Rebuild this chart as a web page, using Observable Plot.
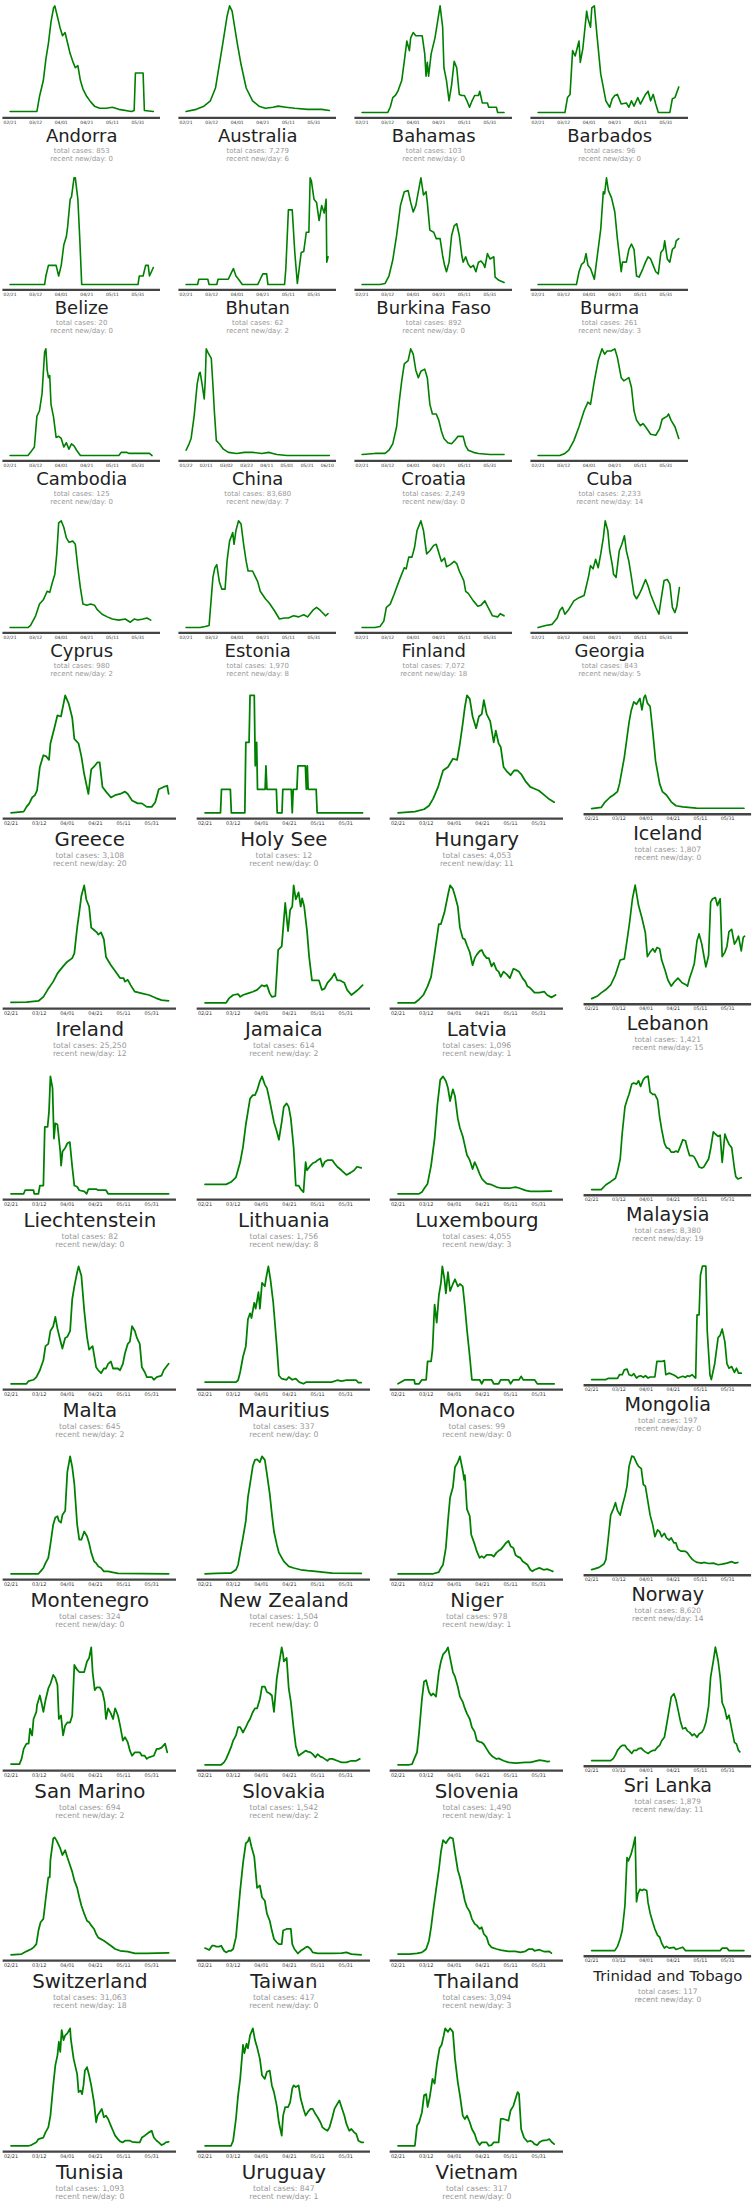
<!DOCTYPE html>
<html><head><meta charset="utf-8">
<script src="https://cdn.jsdelivr.net/npm/d3@7"></script>
<script src="https://cdn.jsdelivr.net/npm/@observablehq/plot@0.6"></script>
<style>
html,body{margin:0;padding:0;background:#fff;}
#wrap{position:relative;width:753px;height:2209px;overflow:hidden;font-family:"DejaVu Sans",sans-serif;}
.panel{position:absolute;}
.panel svg{overflow:visible;}
</style></head><body><div id="wrap"></div>
<script>
const countries = ["Andorra","Australia","Bahamas","Barbados","Belize","Bhutan","Burkina Faso","Burma","Cambodia","China","Croatia","Cuba","Cyprus","Estonia","Finland","Georgia","Greece","Holy See","Hungary","Iceland","Ireland","Jamaica","Latvia","Lebanon","Liechtenstein","Lithuania","Luxembourg","Malaysia","Malta","Mauritius","Monaco","Mongolia","Montenegro","New Zealand","Niger","Norway","San Marino","Slovakia","Slovenia","Sri Lanka","Switzerland","Taiwan","Thailand","Trinidad and Tobago","Tunisia","Uruguay","Vietnam"];
const totalCases = [853,7279,103,96,20,62,892,261,125,83680,2249,2233,980,1970,7072,843,3108,12,4053,1807,25250,614,1096,1421,82,1756,4055,8380,645,337,99,197,324,1504,978,8620,694,1542,1490,1879,31063,417,3094,117,1093,847,317];
const recentNew = [0,6,0,0,0,2,0,3,0,7,0,14,2,8,18,5,20,0,11,0,12,2,1,15,0,8,3,19,2,0,0,0,0,0,1,14,2,2,1,11,18,0,3,0,0,1,0];
const startDates = countries.map(c => c === "China" ? "2020-01-22" : "2020-02-21");
const endDate = "2020-06-12";

// [day offset from start date, value as % of the country's peak]
const andorra = [[0,1],[21,1],[23,15],[26,30],[28,50],[30,65],[32,85],[34,98],[35,100],[37,90],[39,80],[41,72],[43,75],[45,65],[47,55],[49,48],[51,42],[53,44],[55,30],[57,22],[60,15],[63,10],[66,6],[70,4],[75,4],[80,5],[85,3],[95,1],[97,2],[98,37],[104,37],[105,2],[112,1]];
const australia = [[0,1],[8,3],[14,6],[19,11],[23,23],[26,45],[29,67],[32,90],[34,100],[36,95],[38,80],[40,65],[43,45],[47,23],[52,11],[57,6],[62,4],[68,5],[72,6],[78,5],[85,4],[95,3],[100,3],[106,3],[112,2]];
const bahamas = [[0,0],[20,0],[22,5],[24,14],[26,16],[28,20],[31,30],[33,48],[35,67],[37,58],[38,70],[40,75],[42,72],[45,72],[47,72],[49,55],[50,34],[51,47],[52,34],[54,55],[57,70],[59,85],[61,100],[63,80],[64,42],[66,30],[68,11],[70,26],[72,48],[74,42],[76,17],[78,16],[80,16],[82,11],[84,5],[86,11],[88,16],[91,16],[92,20],[94,9],[98,9],[99,5],[105,5],[106,0],[111,0]];
const barbados = [[0,0],[21,0],[23,14],[25,17],[27,58],[29,53],[32,67],[33,47],[35,60],[38,95],[39,88],[41,80],[42,98],[44,100],[46,73],[49,36],[50,30],[53,11],[56,5],[58,13],[60,16],[62,17],[65,8],[69,9],[71,5],[73,11],[75,6],[78,14],[80,8],[84,17],[86,20],[88,11],[90,17],[92,8],[94,0],[103,0],[105,13],[107,14],[110,24]];
const belize = [[0,0],[27,0],[28,8],[30,18],[36,18],[38,8],[40,18],[42,37],[44,45],[45,54],[47,80],[48,82],[50,100],[51,100],[53,80],[54.5,43],[56,0],[100,0],[101,8],[104,8],[106,18],[108,18],[109,8],[112,16]];
const bhutan = [[0,0],[9,0],[10,5],[17,5],[18,0],[24,0],[25,5],[33,5],[35,10],[37,15],[39,8],[41,5],[44,0],[56,0],[58,5],[60,10],[63,10],[64,0],[77,0],[78,15],[80,70],[83,70],[85,30],[87,1],[90,30],[92,31],[94,49],[96,49],[97,100],[98,97],[100,80],[102,77],[104,60],[106,74],[108,67],[109.5,80],[110,21],[111,26]];
const burkinaFaso = [[0,0],[14,0],[18,1],[21,8],[24,23],[27,46],[30,74],[33,87],[36,88],[38,77],[40,68],[42,74],[44,87],[46,100],[48,84],[50,87],[51,77],[53,51],[56,49],[58,43],[61,43],[63,27],[64.5,18],[66,12],[68,21],[70,46],[72,55],[74,57],[76,46],[78,27],[79,21],[81,26],[83,19],[85,16],[87,18],[89,12],[91,21],[93,22],[95,19],[96,16],[98,29],[100,24],[103,26],[104,7],[107,4],[111,2]];
const burma = [[0,0],[30,0],[32,12],[34,19],[36,21],[37.5,29],[39,18],[41,15],[44,5],[46,24],[49,52],[51,87],[52,85],[53.5,100],[55,88],[57.5,81],[60,68],[62,43],[65,12],[66,21],[69,21],[71,33],[73,38],[75,33],[77,8],[79,7],[82,15],[84,21],[86,26],[88,24],[90,18],[92,12],[94,10],[96,30],[98,33],[99,41],[101,24],[103,21],[105,33],[107,35],[108,41],[110,43]];
const cambodia = [[0,0],[14,0],[16,3],[19,8],[21,37],[23,42],[25,58],[27,97],[28,100],[29,80],[30,73],[31,75],[32,48],[34,36],[36,17],[38,18],[40,16],[42,8],[44,12],[46,6],[48,11],[50,9],[52,5],[55,0],[85,0],[87,3],[91,3],[93,2],[100,2],[109,2],[111,0]];
const china = [[0,5],[3,11],[5,16],[8,37],[11,67],[13,77],[14,78],[16,66],[18,53],[19,70],[20,100],[22,96],[25,91],[27,60],[28,42],[30,14],[33,11],[37,6],[42,3],[50,2],[58,3],[66,3],[75,2],[82,3],[86,2],[90,1],[100,0],[142,0]];
const croatia = [[0,1],[10,2],[18,2],[21,5],[24,11],[27,27],[29,50],[31,70],[33,86],[36,89],[38,100],[40,95],[42,80],[44,73],[46,79],[49,81],[51,73],[53,48],[55,39],[58,39],[60,33],[62,23],[64,16],[67,12],[70,11],[73,15],[75,18],[79,18],[81,9],[83,5],[87,3],[91,2],[100,1],[111,1]];
const cuba = [[0,0],[17,0],[21,2],[24,5],[28,14],[32,27],[36,42],[39,50],[41,48],[44,70],[47,89],[50,100],[52,95],[54,98],[57,98],[60,100],[62,92],[65,73],[67,70],[71,73],[73,64],[75,42],[77,33],[80,28],[82,30],[84,27],[88,20],[92,19],[95,25],[97,34],[101,37],[102,39],[104,33],[107,27],[110,16]];
const cyprus = [[0,0],[14,0],[16,2],[20,11],[23,22],[26,26],[29,34],[31,33],[33,42],[35,50],[36.5,69],[38,98],[40,100],[42,94],[44,84],[46,80],[49,81],[51,78],[53,56],[55,37],[57,22],[60,21],[63,22],[66,21],[68,17],[72,12.5],[76,10],[80,8],[85,7],[90,8],[94,5],[97,8],[100,7],[104,8],[107,9],[110,7]];
const estonia = [[0,0],[11,0],[15,1],[18,2],[21,47],[22.5,56],[24,59],[26,43],[28,36],[30.5,36],[32,62],[34,81],[36.5,89],[37.5,78],[39,91],[41,100],[43,97],[45,78],[47,62],[48.5,53],[52,53],[54,48],[56,43],[58,34],[62,27],[65,23],[69,16],[73,8],[77,9],[80,9],[84,11],[88,10],[92,12],[95,10],[99,16],[102,19],[105,16],[109,11],[111,13]];
const finland = [[0,0],[10,0],[14,1],[17,6],[19,19],[22,22],[25,31],[29,44],[33,56],[34.5,55],[36.5,66],[39,66],[41,75],[43,91],[46,100],[48,91],[50.5,69],[53,72],[56,77],[58,78],[60,70],[62,62],[64.5,65],[66,57],[69,59],[72,62],[74,60],[76,53],[79.5,44],[81,34],[83,32],[87,25],[90.5,20],[93,21],[96,25],[98,20],[102,11],[106,10],[108,13],[111,11]];
const georgia = [[0,0],[6,2],[11,3],[15,9],[17,16],[19,19],[21,12.5],[24,17],[28,25],[32,28],[36,30],[39.5,48],[41,58],[43,55],[45,64],[47,56],[49,69],[51,84],[52.5,100],[54.5,91],[56,72],[58,59],[59,50],[61,47],[63.5,72],[65.5,78],[67.5,86],[69,72],[71,62],[73,47],[75,31],[77,27],[79,31],[81,36],[84,45],[86,39],[88,31],[92,19],[94.5,12.5],[96,25],[98.5,44],[101,45],[103,41],[105,19],[107,14],[108.5,20],[110.5,37.5]];
const greece = [[0,0],[9,1],[11,5],[13,8],[15,13],[17,15],[18.5,19],[20.5,39],[23,49],[25,48],[27,45],[28,59],[31,73],[33,83],[35.5,82],[38.5,100],[41,93],[43.5,81],[45,63],[48,59],[50,48],[52,33],[55,16],[57,37],[59.5,40],[61.5,43],[63,43],[65,22],[67.5,18],[71,13],[74,15],[77.5,16],[81,18],[83,16],[86,10.5],[90,8],[93,8],[96.5,5],[100,5],[102.5,9],[105,20],[108.5,22],[111,23],[112,16]];
const holySee = [[0,0],[11,0],[11.7,20],[18,20],[18.7,0],[28.3,0],[29,60],[31.3,60],[32,100],[35,100],[35.7,40],[36.7,60],[37.3,20],[42.7,20],[43.3,40],[44,20],[50.7,20],[51.3,0],[54.7,0],[55.3,20],[61.3,20],[62,0],[62.7,20],[65.3,20],[66,40],[71.3,40],[72,20],[72.7,40],[73.3,20],[79,20],[79.7,0],[112,0]];
const hungary = [[0,0],[12,1],[18.5,3],[22,6],[25,12],[28.5,22],[32,36],[35.5,39],[39,46],[42,45],[44,59],[46,76],[47.5,90],[49,100],[51,97],[53,82],[55.5,72],[57.5,82],[59.5,84],[61,96],[63,84],[65.5,78],[68,60],[69.5,70],[71.5,59],[73,56],[75,39],[77.5,35],[80,32],[82.5,36],[85,36],[87.5,33],[90.5,27],[94,22],[97,20.5],[100,19],[104,15],[107,12],[111,9]];
const iceland = [[0,0],[7,1],[10,6],[13.5,10],[16,12],[19,15],[20.5,22],[24,45],[27.5,76],[29,86],[31,94],[33,92],[35.5,97],[37,87],[38.5,98],[39.5,100],[41,93],[43,90],[45,67],[47,42],[50,22],[52,15],[55,12],[58.5,6],[62,2.5],[67,1.5],[77,0.5],[112,0.3]];
const ireland = [[0,0.3],[11,0.6],[19.5,1.5],[23,5],[26,11],[30,18],[33,25],[37,31],[40,35],[43.5,38],[45,42],[47,64],[48.5,77],[50,91],[52,100],[53.5,88],[55.5,82],[56,76],[57,64],[59,62],[61,60],[62,58],[64,60],[66,54],[67.5,39],[71,32],[74,27],[77.5,21],[80,21],[81,18],[83,19.5],[85,15],[88,9.4],[93,8],[98,6.6],[103,4],[107,2.3],[112,1.7]];
const jamaica = [[0,0],[15,0],[17,3.7],[20,6.6],[23.5,7.4],[25,5],[27,6.6],[30.5,8],[34,9.4],[37,11],[40.5,15],[42,14],[44,15],[46,8],[47.5,5],[50,5.7],[52,45],[54.5,48],[57,85],[59,61],[60.5,79],[62,82],[63,100],[64.5,88],[66.5,94],[68,82],[69,89],[70.5,82],[72.5,61],[74,39],[76,19],[78,19],[81,19],[83,11],[85,12],[87,17],[90,21],[92,25],[94,19],[96,19],[99,17],[101,11],[104,6.6],[107,9.4],[109,11.4],[112,15]];
const latvia = [[0,0],[12,0],[14.5,2.3],[18,6.6],[21,14],[23.5,22],[26,42],[29,67],[30.5,67],[33,77],[35.5,92],[37,100],[39,97],[40.5,91],[42.5,82],[44,64],[46,55],[47.5,54],[49,49],[51,43],[53,32],[54.5,38],[56,41],[58,44],[59.5,45],[61,41],[63,38],[64.5,38],[66.5,31],[68,34],[70,28],[71.5,26.5],[73,22],[75,26.5],[77.5,24],[79.5,21],[82,29],[84,28],[86,26.5],[88.5,21],[90.5,18],[92,14],[94,12.5],[97,8.6],[100.5,8.6],[104,9.4],[106,6.6],[109,4.6],[112,6.6]];
const lebanon = [[0,0],[4,2],[7,5],[10.5,8],[14,12],[17.5,21],[21,34],[24,35],[26,51],[28,68],[30,88],[32,100],[34.5,82],[37,71],[39.5,58],[41,37],[43,41],[45,44],[46.5,41],[48,45],[50,44],[51.5,34],[54,25],[56,16.6],[58.5,11],[61,15],[63.5,18],[66.5,14],[69,12.5],[70.5,11],[72,18],[74,25],[75.5,31],[77.5,51],[79,57],[81,48],[82.5,38],[84,28],[86,38],[87.5,85],[89,88],[91,89],[92.5,82],[94.5,88],[96,37],[98,41],[99.5,46],[101,59],[103,61],[105,48],[106.5,51],[108,55],[110,42],[111.5,54],[112.5,55]];
const liechtenstein = [[0,0],[9,0],[10,3],[16,3],[16.5,0],[19.5,0],[20.5,7],[23,7],[24,57],[26,57],[27,70],[28,100],[29.5,90],[30.5,47],[31.5,60],[33,59],[35,36],[35.6,24],[36.6,36],[38.5,39],[40,43],[41.8,44],[43.5,23],[45,7],[47,6],[48.5,3],[52,2],[53.8,0],[55,4],[60.5,4],[62,3],[67.5,3],[69,0],[112,0]];
const lithuania = [[0,8],[8,8],[15,8],[18.5,10],[22,14],[25,27],[27,40],[29,59],[30.5,70],[32,81],[34,84],[35.5,84],[37,88],[39,96],[40.5,100],[42.5,93],[44,90],[46,79],[47.5,70],[49,61],[51,53],[52.5,46],[54.5,61],[56,74],[58,77],[59.5,74],[61,64],[63,39],[64.5,7],[66.5,7],[68,4],[70,1.4],[71.5,27],[72.5,20],[75,24],[76.5,26],[78.5,27],[80,28.6],[82,30],[83.5,23],[85,27],[87,28.6],[90.5,28.6],[92,26],[94,23],[97,20],[100.5,16],[103.5,18],[106,20],[108,23],[111,22]];
const luxembourg = [[0,0],[15,0],[17,1.4],[18.5,4.3],[21,8.6],[23.5,24],[26,47],[28,76],[30,97],[32,100],[34,96],[35.5,90],[37,79],[39,89],[40.5,83],[42.5,64],[44,56],[46,49],[47.5,41],[49,33],[51,28.6],[53,21],[54.5,27],[56,23],[58,17],[59.5,13],[61,11],[63,8.6],[66.5,7.7],[70,5.7],[73,4.9],[80,4.9],[83.5,5.7],[86,4.9],[90.5,2.9],[94,2],[101,2],[109,2.3]];
const malaysia = [[0,0],[7,0],[10.5,4.3],[14,7],[17.5,10],[19,16],[21,27],[22.5,50],[24.5,73],[26,79],[27.5,84],[29.5,93],[31,94],[33,93],[34.5,96],[36,91],[38,97],[39.5,99],[41.5,100],[43,86],[45,84],[46.5,84],[48.5,79],[50,64],[51.5,53],[53.5,41],[55,37],[57,36],[58.5,33],[60.5,33],[62,34],[63.5,33],[65.5,39],[67,44],[69,43],[70.5,36],[72,30],[74,30],[75.5,28.6],[77.5,24],[79,20],[81,19],[82.5,20],[84,23],[86,27],[87.5,36],[89.5,51],[91,49],[93,47],[94.5,48],[96,24],[98,49],[99.5,44],[101,40],[103,37],[105,18.6],[106,11.4],[107.5,9.4],[110,10.5]];
const malta = [[0,0],[11,0],[12.5,2.3],[16,3.4],[18,5.7],[20.5,11.5],[23,20],[24.5,32],[26.5,34],[28,45],[30,49],[31.5,57],[33,47],[35,37],[36.5,30],[38.5,39],[40,40],[42,45],[43.5,72],[45,83],[47,95],[48,100],[50,92],[52,63],[54,40],[55.5,29],[58,32],[60.5,14],[62,11.5],[64,9],[66,13],[67.5,13],[69,17],[71,19],[72.5,13],[76,13],[77.5,11.5],[79.5,17],[81,26],[83,34],[84.5,36],[86,49],[88,45],[89.5,39],[91.5,34],[93,14],[95,10],[96.5,5.7],[100,5.7],[101.5,3.4],[103.5,5.7],[107,7],[108.5,11.5],[112,17]];
const mauritius = [[0,1.4],[22,1.4],[23.5,3],[25,10],[27,23],[29,32],[30.5,55],[32,60],[33,56],[35,69],[36,64],[38,78],[39,64],[40.5,86],[42.5,83],[43.5,90.5],[45,100],[46.5,89],[48.5,69],[51,32],[52.5,7],[54.5,4.3],[58,3.4],[59.5,5.7],[62,3.4],[64.5,4.3],[67,1.4],[70,0],[72,1.4],[90,1.4],[94,3],[97,2.3],[100.5,3],[107.5,3],[109,1],[111,1]];
const monaco = [[0,0],[5,3.4],[11.5,3.4],[12,0],[15,0],[17,3.4],[20,3.4],[21,19],[23.5,19],[24.5,29],[26,67.5],[27.5,52],[29,75],[30.5,86],[31.5,100],[33,89],[34,77],[35.5,95],[37,79],[39,85],[40.5,89],[42.5,83],[44,85],[46,83],[47.5,66],[49,46],[51,23],[52.5,3.4],[58,3.4],[59.5,0],[61,3.4],[66.5,3.4],[68,0],[71.5,0],[73,3.4],[78.5,3.4],[80,0],[82,3.4],[86,3.4],[87.5,6.3],[89,3.4],[97,3.4],[99,0],[111,0]];
const mongolia = [[0,0],[10.5,0],[12,1],[19,1],[20.5,4.3],[22.5,4.3],[24,8.6],[26,9.2],[27.5,4.3],[29.5,3.4],[31,5.2],[33,1.4],[34.5,2.9],[36,3.4],[38,2],[39.5,3.4],[41.5,1.4],[43,2.3],[46.5,2.3],[48,16],[51.5,16],[53.5,16.7],[54.5,4.3],[57,5.7],[60,4.3],[62,2.9],[63.5,1.4],[67,2.9],[69,2],[70.5,3.4],[72,2.9],[74,4.3],[75.5,2.3],[76.5,1.4],[77.5,57],[79,57],[80,92],[81.5,100],[84,100],[85,43],[87,4.3],[88,0],[90.5,14],[93,37],[94.5,39],[96,44.5],[98,33],[99.5,14],[101,10],[103,11.5],[105,6.3],[106.5,10],[108,5.7],[110,5.7]];
const montenegro = [[0,0],[19.5,0],[21,2],[23,4.9],[24.5,9],[26.5,13.5],[28,25],[30,42],[31.5,48],[33,49],[34,45],[35.5,43.5],[36.5,50],[38.5,53.6],[40,86.5],[42,100],[43.5,91],[45,76.5],[47,42],[48.5,29],[50,29],[52,36],[54,32],[55.5,26],[57,18],[59,10.6],[60.5,9],[62,6.3],[64,4.9],[66,2],[69,2],[72.5,1.1],[76,0.3],[112,0]];
const newZealand = [[0,0],[8,0.3],[15,0.6],[18.5,0.6],[22,3.4],[23.5,7.7],[25,18],[27,31],[29,45],[30.5,65],[32,76.5],[34,92],[35.5,97],[37,97.5],[39,95],[40.5,100],[42.5,97],[44,85],[46,68],[47.5,51],[49,36],[51,25],[52.5,18],[56,10.6],[59.5,6.3],[63,4.9],[68,3.4],[73,2.6],[78.5,2],[83.5,1.4],[90.5,0.6],[111,0.3]];
const niger = [[0,0],[25,0],[29,1.4],[30.5,5],[32,7.7],[34,22],[35.5,45],[37,65],[39,73.6],[40.5,91],[42.5,95],[44,100],[46,88],[47,80],[47.5,84],[49,55],[51,49],[52,33.5],[54.5,25],[56,19],[58,13.5],[59.5,15],[61,13.5],[63,16],[66.5,16],[68,14.6],[70,18],[71.5,19.5],[73,20.6],[75,23.5],[76.5,26],[78.5,28],[80,23.5],[82,22],[83.5,16],[85,14.6],[87,13.5],[88.5,10.6],[90.5,9],[92,7.7],[94,3.4],[95.5,2],[97,3.4],[100.5,5],[103.5,3.4],[106,4],[109,2.6],[110,2]];
const norway = [[0,0],[2,0.6],[5.5,2],[9,4.9],[10.5,9],[12,25],[14,48],[16,53.6],[17.5,59],[19,52],[21,48],[22.5,56],[24.5,65],[26,73.6],[27.5,91],[29.5,100],[31,99.4],[33,94],[34.5,91],[36.5,89],[38,75],[39.5,73.6],[41.5,59],[43,48],[45,39],[46.5,29],[48.5,35],[50,33.5],[51.5,29],[53.5,32],[55,28],[57,26],[58.5,28],[60.5,23.5],[62,23.5],[63.5,18],[65.5,16.3],[67,16.3],[69,16],[70.5,14.6],[72,12],[74,9],[75.5,7.7],[77.5,6.3],[81,5.7],[82.5,6.3],[86,5.4],[89.5,5.7],[93,4.3],[96,4.9],[99.5,5.7],[103,7],[105.5,5.7],[107.5,6.3]];
const sanMarino = [[0,0.6],[6,0.6],[7.5,5],[9,13.5],[11,18],[12.5,18],[13.5,30.7],[15,25],[16,39],[18,45],[18.5,51],[20.5,59],[22,51],[23,45],[24.5,55],[26.5,65],[28,69],[30,76.5],[31.5,74],[33,68],[34,39],[35.5,42],[37,25],[38.5,33.5],[40,36],[42,36],[43.5,42],[45,85],[47,81],[48.5,79],[50,79],[52,79],[54,88],[55.5,91],[57,100],[58,79],[59.5,63.6],[61,66],[63,66],[65,62],[66.5,53.6],[67.5,39],[69,48],[71,43.5],[72.5,39],[74,48],[76,42],[77.5,33.5],[79.5,20.6],[81,23.5],[83,19],[84.5,12],[86,7.7],[88,10.6],[91.5,10.6],[93,7.7],[95,7.7],[96.5,5],[98,6.3],[101.5,7.7],[103.5,13.5],[105,13.5],[107,14.6],[109.5,18],[111,10.6]];
const slovakia = [[0,0],[11.5,0],[13.5,2],[15,5],[17,10.6],[18.5,15],[20,20.6],[22,25],[23.5,32],[25,32],[27,27.5],[29,32],[30.5,36],[32,39],[34,45],[35.5,48],[37,48],[39,56],[40.5,66.5],[42.5,66.5],[44,62],[46,60.7],[47.5,59],[49,45],[51,73.6],[52.5,85],[54.5,100],[55.5,94],[56,88],[58,91],[59.5,65],[61,53.6],[63,30.7],[64.5,16],[66.5,7.7],[68,9],[70,10.6],[71.5,12],[73,11.2],[75,10.6],[76.5,9],[78.5,6.3],[80,9],[82,6.9],[83.5,6.3],[85,5],[87,3.4],[88.5,5],[90.5,5],[94,3.4],[97,2],[100.5,2],[104,3.4],[107.5,3.4],[110,5]];
const slovenia = [[0,0],[8,0],[10,0.6],[11.5,5],[13.5,10.6],[15,28],[17,56],[18.5,71],[20,72],[22,62],[23.5,59],[25,60.7],[27,58],[29,79],[30.5,88],[32,94],[34,96.6],[35.5,100],[37,91],[39,79],[40.5,75],[42.5,66.5],[44,58],[46,53.6],[47.5,48],[49,43.5],[51,39],[52.5,32],[54.5,28],[56,20.6],[58,19.5],[59.5,19],[61,17.5],[63,13.5],[64.5,10.6],[66.5,7.7],[68,6.3],[70,4.9],[71.5,5.4],[75,3.4],[78.5,2],[83.5,1.4],[90.5,2],[94,2],[97,2.9],[100.5,4],[104,3.4],[106,2.6],[107.5,2.9]];
const sriLanka = [[0,0],[14,0],[16,2],[17.5,5],[19,9],[21,12],[22.5,13.5],[24.5,13.5],[26,10.6],[27.5,9],[29.5,6.3],[31,9],[33,9],[34.5,10.6],[36.5,11],[38,9],[39.5,7.7],[41.5,6.3],[43,7.7],[45,9],[46.5,9],[48.5,12],[50,13.5],[51.5,17.5],[53.5,20.6],[55,30.7],[57,45],[58.5,56],[60.5,59],[62,53.6],[63.5,45],[65.5,33.5],[67,28],[69,29],[70.5,26],[72,24.9],[74,22],[75.5,23.5],[77.5,20.6],[79,23.5],[81,24.9],[82.5,28],[84,33.5],[86,48],[87.5,73.6],[89.5,88],[91,100],[93,88],[94.5,73.6],[96,51],[98,45],[99.5,36.7],[101,40],[103,28],[105,16],[106.5,14.6],[108,9],[109,7.7]];
const switzerland = [[0,0],[7.5,0.6],[11,2.9],[14.5,4.9],[16,6.3],[18,9],[19.5,20.6],[21,27.7],[23,30.6],[24.5,46],[26.5,66],[27.5,66],[28,80.6],[30,99],[31,100],[32.5,97],[35,90.6],[36.5,85],[38.5,89],[40,83],[42,76],[43.5,70.6],[45,63.4],[47,57],[48.5,49],[50,42],[52,35],[54,29],[55.5,27.7],[57,25],[59,22],[60.5,17.7],[62,14.6],[66,12],[67.5,10.6],[71,7.7],[74,4.9],[77.5,3.4],[83,2.6],[88,1.1],[96.5,1.1],[103.5,1.4],[112,1.7]];
const taiwan = [[0,5.7],[3,4],[5,7.7],[6.5,7.7],[8,6.9],[10,6.9],[11.5,7.7],[13.5,3.4],[15,2],[17,3.4],[18.5,3.4],[20,4.9],[22,15],[23.5,35],[25,55],[27,78],[29,95],[30.5,96.6],[31.5,100],[33,92],[35,83.4],[37,57],[39,59],[40.5,49],[42.5,46],[44,35],[46,29],[47.5,20.6],[49,13.4],[51,10.6],[52.5,9],[54.5,9],[55.5,20.6],[58,22],[61,22],[62,9],[63.5,4.9],[66,1.1],[68,3.4],[70,4.9],[71.5,6.3],[73,6.9],[75,4.9],[76.5,2],[80,1.1],[90,1.1],[97,1.4],[100.5,2],[104,0.6],[111,0]];
const thailand = [[0,0.6],[8,0.6],[13.5,1.1],[17,2],[18.5,3.4],[20,4.9],[22,12],[23.5,23.4],[25,37.7],[27,55],[29,72],[30.5,87.7],[32,97.7],[34,95],[35.5,97.7],[37,100],[39,99],[40.5,87],[42.5,72],[44,66],[46,55],[47.5,46],[49,40.6],[51,36.6],[52.5,30.6],[54.5,26.3],[56,25],[58,22],[59.5,23.4],[61,17.7],[63,15],[64.5,9],[66.5,6.3],[70,4.9],[73,4],[78.5,2.9],[83.5,2.9],[87,2],[90.5,2.9],[93,4.9],[95.5,4.9],[97,3.4],[100.5,4.3],[104,2.6],[107.5,2.9],[109,1.4]];
const trinidadTobago = [[0,0],[17,0],[19,3.7],[21,10.7],[22.5,17.7],[24.5,40],[26,82],[27,79],[29,85],[30.5,92],[32,100],[33,43],[34,50],[35.5,54],[37,53],[38.5,54],[40.5,53],[41.5,42],[43,33],[45,24.7],[46.5,19],[48.5,13.5],[50,12],[51.5,6.5],[53.5,2.2],[55,3.7],[57,2.2],[60.5,2.8],[62,1],[67,3],[69,0],[94.5,0],[96,2.2],[99.5,2.2],[101,0],[112,0]];
const tunisia = [[0,0],[12.5,0],[14.5,0.6],[18,2.9],[19.5,5.7],[23,7],[24.5,11.4],[26.5,15.7],[28,25.7],[30,51.4],[31.5,68.6],[33,77],[34,88.6],[35,80],[36,98.6],[37.3,90],[38.5,94],[40,95.7],[42,100],[42.5,91],[44.5,74],[47,61],[48,45.7],[49.5,47],[50.5,44],[51.5,51.4],[52.5,64],[54,67],[55.5,60],[57,51.4],[59,37],[60.5,20],[61.5,25.7],[63,28.6],[64.5,31.4],[66,24.3],[67.5,25.7],[69,22.8],[71,17],[72.5,12.8],[74,8.6],[76,5.7],[77.5,3.7],[79.5,2.9],[81,4.3],[84.5,4.3],[86,3.4],[89.5,2.9],[91.5,2.9],[93,7],[95,8.6],[96.5,10],[98,11.4],[100,12.8],[101.5,7],[103.5,4.3],[105,2.9],[107,0.6],[108.5,1.4],[110,2.9],[112,3.4]];
const uruguay = [[0,0],[18.5,0],[20,4.3],[22,23],[23.5,43],[25,57],[27,86],[28,79],[29.5,87],[30.5,83],[32,94],[34,100],[35.5,90],[37,84],[39,74],[40.5,60],[42.5,57],[44,63],[46,64],[47.5,51.4],[49,45.7],[51,34],[52.5,20],[54.5,8.6],[55.5,25.7],[57,33],[59,33],[60.5,37],[62,48.6],[63,51.4],[64.5,50],[66.5,51.4],[68,40],[70,31.4],[71.5,25.7],[73,28.6],[75,31.4],[76.5,31.4],[78.5,27],[80,24.3],[82,20],[83.5,15.7],[85,14.3],[87,12.8],[88.5,15.7],[90.5,24.3],[92,31.4],[94,35.7],[95.5,38.6],[97,33],[99,25.7],[100.5,18.6],[102.5,12.8],[104,14.3],[106,11.4],[107.5,10],[109,4.3],[111,2.9],[112.5,2.9]];
const vietnam = [[0,0],[12,0],[13.5,17],[15,20],[17,28.6],[18.5,43],[20,44],[21,33],[22.5,41],[24.5,57],[26,53],[27.5,68.6],[29.5,83],[31,86],[32.5,94],[33.5,100],[35.5,97],[37,100],[39,97],[40.5,74],[42.5,54],[44,43],[46,25.7],[47.5,22.8],[49,25.7],[51,20],[52.5,14.3],[54.5,10],[56,4.3],[58,0.6],[59.5,2.9],[63,2.9],[64.5,0],[66.5,0.6],[68,2.9],[71.5,2.9],[73,22.8],[75,22.8],[78.5,21.4],[80,30],[82,34],[83.5,40],[85,45.7],[86,44],[87.5,14.3],[89.5,7],[92,3.4],[94,4.3],[95.5,3.4],[97,1.4],[99,0.6],[100.5,2.9],[102.5,4.3],[106,4.9],[107.5,5.7],[109,3.4],[111,1.4]];

const curves = [andorra,australia,bahamas,barbados,belize,bhutan,burkinaFaso,burma,cambodia,china,croatia,cuba,cyprus,estonia,finland,georgia,greece,holySee,hungary,iceland,ireland,jamaica,latvia,lebanon,liechtenstein,lithuania,luxembourg,malaysia,malta,mauritius,monaco,mongolia,montenegro,newZealand,niger,norway,sanMarino,slovakia,slovenia,sriLanka,switzerland,taiwan,thailand,trinidadTobago,tunisia,uruguay,vietnam];

const DAY = 86400000;
const fmt = d3.format(",");
const wrap = document.getElementById("wrap");

countries.forEach((name, i) => {
  const r = Math.floor(i / 4), c = i % 4;
  const s = r < 4 ? 1 : 1.1;
  const axisY = r < 4 ? 117.4 + 171.7 * r : 818 + 190.4 * (r - 4);
  const plotH = 117.4 * s;
  const t0 = Date.parse(startDates[i]);
  const t1 = Date.parse(endDate);
  const span = t1 - t0;
  const data = curves[i].map(([d, v]) => ({date: new Date(t0 + d * DAY), v}));
  const ticks = d3.range(0, span / DAY + 1, 20).map(d => new Date(t0 + d * DAY));
  const chart = Plot.plot({
    width: 162 * s,
    height: plotH + 48 * s,
    marginTop: 0, marginBottom: 48 * s, marginLeft: 2.4 * s, marginRight: 2 * s,
    style: {fontFamily: "DejaVu Sans", fontSize: (4.5 * s) + "px", color: "#333", background: "transparent", overflow: "visible"},
    x: {type: "utc", domain: [new Date(t0 - 0.05 * span), new Date(t1 + 0.05 * span)], ticks, tickFormat: "%m/%d", tickSize: 0, tickPadding: 2.6 * s, label: null},
    y: {domain: [-5, 105], axis: null},
    marks: [
      Plot.line(data, {x: "date", y: "v", stroke: "#008000", strokeWidth: 1.6 * s}),
      Plot.ruleY([-5], {stroke: "#444", strokeWidth: 2.2 * s}),
      Plot.text([name], {text: d => d, frameAnchor: "bottom", lineAnchor: "bottom", dy: (name.length > 15 ? 23.5 : 24.5) * s, fontSize: (name.length > 15 ? 14 : 18) * s, fill: "#222"}),
      Plot.text([`total cases: ${fmt(totalCases[i])}`], {text: d => d, frameAnchor: "bottom", lineAnchor: "bottom", dy: 35.4 * s, fontSize: 7 * s, fill: "#999"}),
      Plot.text([`recent new/day: ${recentNew[i]}`], {text: d => d, frameAnchor: "bottom", lineAnchor: "bottom", dy: 43.4 * s, fontSize: 7 * s, fill: "#999"})
    ]
  });
  const div = document.createElement("div");
  div.className = "panel";
  div.style.left = (c * 176 * s) + "px";
  div.style.top = (axisY - plotH) + "px";
  div.appendChild(chart);
  wrap.appendChild(div);
});
</script></body></html>
